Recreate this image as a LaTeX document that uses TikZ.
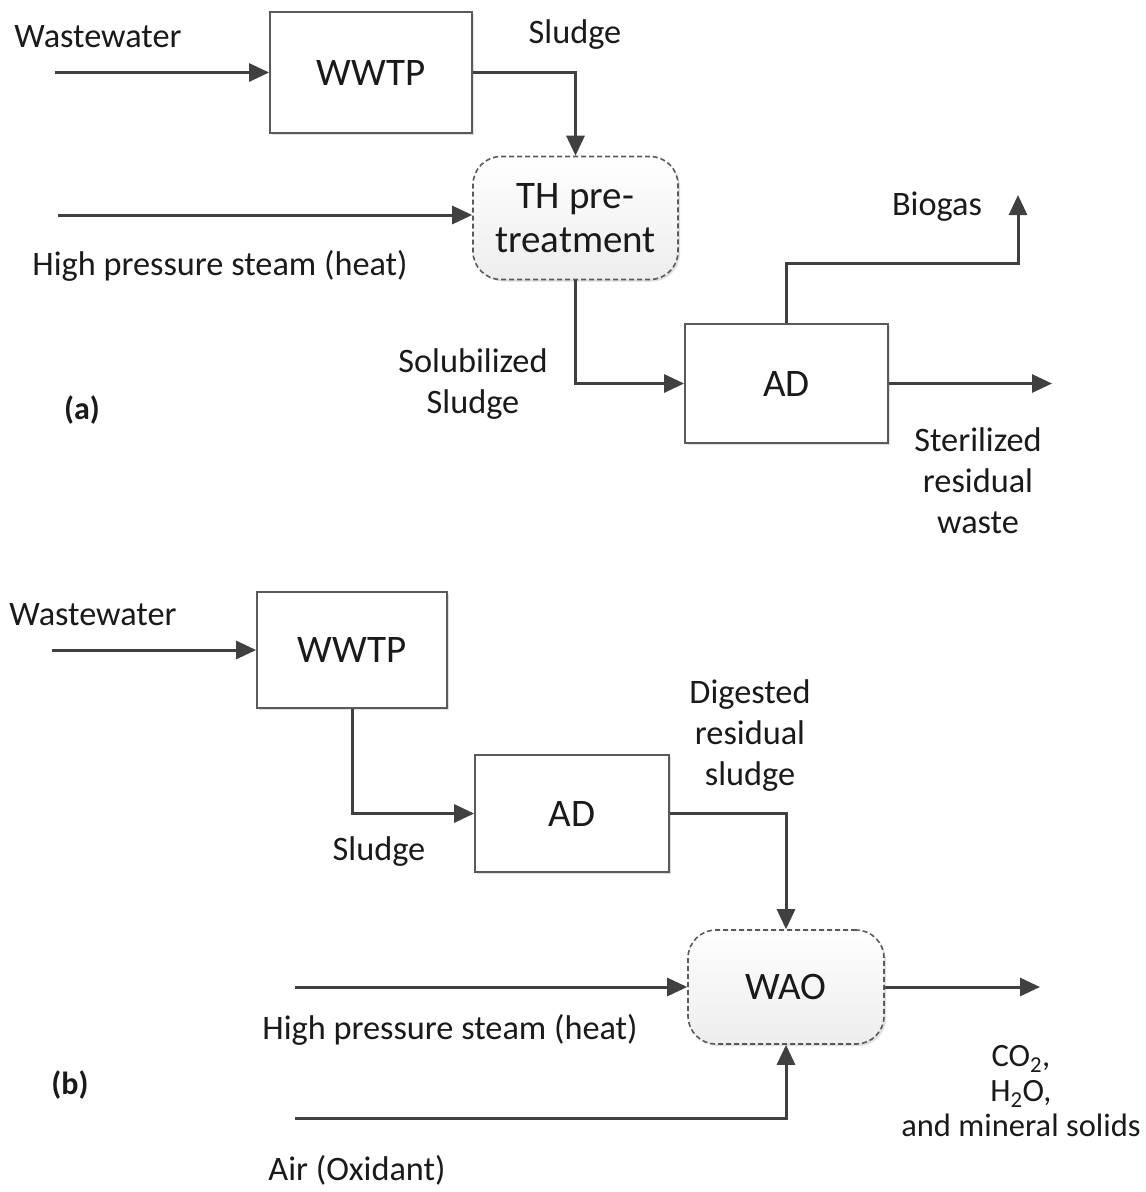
\documentclass[tikz,border=0pt]{standalone}
\usepackage{fontspec}
\setmainfont{Carlito}
\usetikzlibrary{arrows.meta,shadows,positioning}
\definecolor{ln}{HTML}{404040}
\definecolor{bx}{HTML}{5A5A5A}
\definecolor{tx}{HTML}{1A1A1A}
\tikzset{
  lbl/.style={text=tx,font=\fontsize{34.3}{41}\selectfont,align=center,inner sep=0pt},
  boxa/.style={draw=bx,line width=1.8pt,fill=white,text=tx,font=\fontsize{39}{44}\selectfont,
     drop shadow={shadow xshift=2pt,shadow yshift=-2pt,opacity=0.25,fill=gray}},
  rbox/.style={draw=bx,line width=1.6pt,dash pattern=on 5pt off 3pt,rounded corners=28pt,
     top color=white,bottom color=black!7,text=tx,font=\fontsize{39}{44}\selectfont,align=center,
     drop shadow={shadow xshift=2pt,shadow yshift=-2pt,opacity=0.25,fill=gray}},
  flow/.style={draw=ln,line width=3pt,-{Triangle[length=20pt,width=18pt]}},
  plain/.style={draw=ln,line width=3pt}
}
\begin{document}
\begin{tikzpicture}[x=1pt,y=-1pt]
\useasboundingbox (0,0) rectangle (1146,1192);
% ---------- (a) ----------
\node[boxa,minimum width=202pt,minimum height=121pt] (wwtpA) at (371,72.5) {WWTP};
\node[rbox,minimum width=205pt,minimum height=123pt] (thA) at (575.5,218) {TH pre-\\treatment};
\node[boxa,minimum width=203pt,minimum height=119pt] (adA) at (786.5,383.5) {AD};
\coordinate (wwinA) at (55,72.5);
\coordinate (stinA) at (58,215);
\coordinate (bioA) at (1018,195);
\coordinate (outA) at (1052,383.5);

\node[lbl] (lwwA) at (98,37) {Wastewater};
\node[lbl] (lslA) at (575,35) {Sludge};
\node[lbl] (lstA) at (220,266) {High pressure steam (heat)};
\node[lbl] (lsolA) at (473,384) {Solubilized\\Sludge};
\node[lbl] (lbioA) at (937,207) {Biogas};
\node[lbl] (lsteA) at (978,481) {Sterilized\\residual\\waste};
\node[lbl,font=\bfseries\fontsize{32}{38}\selectfont] (la) at (82,410) {(a)};

\draw[flow] (wwinA) -- (wwtpA.west);
\draw[flow] (wwtpA.east) -| (thA.north);
\draw[flow] (stinA) -- (stinA -| thA.west);
\draw[flow] (thA.south) |- (adA.west);
\draw[flow] (adA.north) |- (1018,263) -- (bioA);
\draw[flow] (adA.east) -- (outA);

% ---------- (b) ----------
\node[boxa,minimum width=190pt,minimum height=116pt] (wwtpB) at (352,650) {WWTP};
\node[boxa,minimum width=194pt,minimum height=117pt] (adB) at (572,813.5) {AD};
\node[rbox,minimum width=196pt,minimum height=114pt] (waoB) at (786,987) {WAO};
\coordinate (wwinB) at (52,650);
\coordinate (stinB) at (295,987);
\coordinate (airB) at (295,1118);
\coordinate (outB) at (1040,987);

\node[lbl] (lwwB) at (93,615) {Wastewater};
\node[lbl] (lslB) at (379,852) {Sludge};
\node[lbl] (ldigB) at (750,736) {Digested\\residual\\sludge};
\node[lbl] (lstB) at (450,1030) {High pressure steam (heat)};
\node[lbl] (lairB) at (357,1170) {Air (Oxidant)};
\node[lbl,font=\fontsize{32.5}{35}\selectfont] (lcoB) at (1021,1091) {CO\textsubscript{2},\\H\textsubscript{2}O,\\and mineral solids};
\node[lbl,font=\bfseries\fontsize{32}{38}\selectfont] (lb) at (70,1085) {(b)};

\draw[flow] (wwinB) -- (wwtpB.west);
\draw[flow] (wwtpB.south) |- (adB.west);
\draw[flow] (adB.east) -| (waoB.north);
\draw[flow] (stinB) -- (waoB.west);
\draw[flow] (airB) -| (waoB.south);
\draw[flow] (waoB.east) -- (outB);
\end{tikzpicture}
\end{document}
